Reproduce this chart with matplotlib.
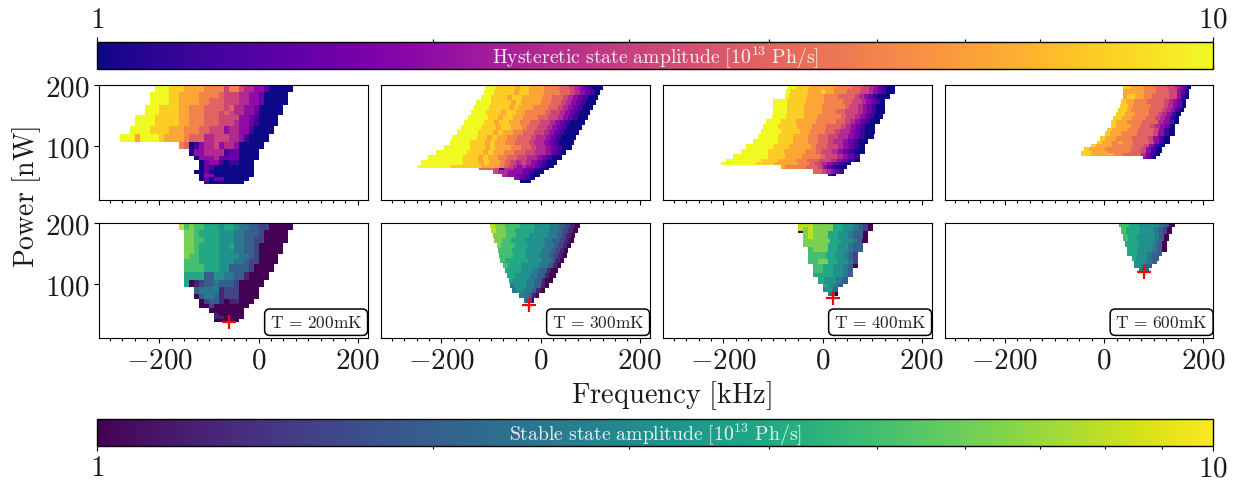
import numpy as np
import matplotlib
matplotlib.use('Agg')
import matplotlib.pyplot as plt
from matplotlib.colors import LogNorm
from matplotlib.cm import ScalarMappable

plt.rcParams['mathtext.fontset'] = 'cm'
plt.rcParams['font.family'] = ['cmr10', 'DejaVu Sans']
plt.rcParams['axes.unicode_minus'] = False
plt.rcParams['axes.formatter.use_mathtext'] = True
plt.rcParams['text.color'] = '#1a1a1a'
plt.rcParams['xtick.labelcolor'] = '#1a1a1a'
plt.rcParams['ytick.labelcolor'] = '#1a1a1a'

# Cell levels: character c means amplitude 10**(c/10), with 'a' = 10 [1e13 Ph/s]
TEMPS = ['200', '300', '400', '600']
X_TICKS = [-200, 0, 200]
X_TICK_LABELS = ['$-200$', '$0$', '$200$']
Y_TICKS = [100, 200]
Y_TICK_LABELS = ['$100$', '$200$']
THRESH_F = [-60, -23, 20, 80]
THRESH_P = [38, 66, 78, 120]

# ---- 200 mK
H200_P = [200,189,178,167,158,150,142,133,120,106,95,84,76,68,61,53,48,43,38]
H200_L = [-210,-220,-220,-230,-230,-250,-250,-260,-280,-160,-140,-130,-120,-120,-130,-120,-120,-110]
H200_R = [70,60,60,50,50,40,40,30,20,10,0,0,-10,-10,-10,-10,-20,-30]
H200_V = ["aaa9998888777757754433200000","aaaa998888777765554433200000","aaaa998888776665554433200000",
 "aaa9999887776666564433200000","aaa9999887776665654433200000","aaaa9999988777666555533210000",
 "aaaa9999988777666555433210000","aaaa9999888777665553443310000","aaa8aaaa9888876664455544310000",
 "76013445344300000","03344441220000","0333422220000","02331011000","02100000000","002000000000",
 "03300000000","0202200000","10000000"]
S200_P = H200_P
S200_L = [-160,-150,-150,-150,-150,-150,-150,-150,-150,-150,-130,-130,-120,-120,-100,-90,-90,-90]
S200_R = [70,60,60,50,50,40,40,30,20,10,0,0,-10,-20,-30,-30,-30,-40]
S200_V = ["97877666566544332200000","887666655544333200000","887766655544332200000",
 "88766665564433200000","88766665554433200000","8776666555544320000","7776666555443220000",
 "777766655333320000","66663355443310000","6012334333200000","3444412220000","0344312220000",
 "02331011000","0020000000","0000000","100000","110000","00000"]

# ---- 300 mK
H300_P = [200,191.8,183.6,175.4,167.2,159,150.8,142.6,134.4,126.2,118,109.8,101.6,93.4,85.2,77,68.9,63.9,59.6,54.1,48.6,43.2,39.3]
H300_L = [-112,-115,-120,-130,-135,-141,-147,-154,-161,-168,-178,-182,-194,-211,-227,-241,-247,-125,-97,-78,-54,-41]
H300_R = [126,120,116,112,106,100,95,89,84,78,71,67,63,52,43,34,26,17,7,-1,-11,-19]
H300_V = ["aa9999899888777665432100","aa999989988877766543210","aa999899888877665432100",
 "aaa999989888877665432100","aaa999989888777665432100","aaa999899887777655432100",
 "aaaa99899887776655432100","aaaa99899887766554321000","aaaa99989988766554321000",
 "aaaa99989887766554321000","aaaaa99898877666544321000","aaaa999898877666544321000",
 "aaaaa99989888776654432100","aaaaaa9998988776655443210","aaaaaaa99989887766554432100",
 "aaaaaaaa999898876545432100","aaaaaaa99999998888765434332100",
 "66651443322100","5443332100","43322100","3210","000"]
S300_P = [200,191.8,183.6,175.4,167.2,159,150.8,142.6,134.4,126.2,118,109.8,101.6,93.4,85.2,77,68.9]
S300_L = [-102,-100,-97,-95,-88,-85,-83,-81,-75,-71,-67,-63,-61,-58,-44,-34]
S300_R = [80,75,70,67,62,56,53,48,42,36,31,24,17,8,-3,-13]
S300_V = ["988777666555443210","988776666555443210","888776665555443210","887766655554433210",
 "87776665555443210","7776665555443210","777666555443210","76666655544310","7666555544310",
 "66665554433100","6655554433100","655554433100","4555443310","45544310","444310","4320"]

# ---- 400 mK
H400_P = [200,193.4,185.2,177,168.8,160.7,152.5,144.3,136.1,127.9,119.7,111.5,103.3,95.1,86.9,78.7,73.2,67.8,61.2,54.1,50.3]
H400_L = [-70,-74,-76,-100,-100,-100,-102,-114,-120,-125,-131,-141,-155,-165,-180,-195,-205,-84,-20,10]
H400_R = [146,146,136,126,126,126,122,116,106,106,103,92,85,85,75,75,57,50,44,27]
H400_V = ["aa99988888877776655432100","a999988898877766655432100","a99998888777666654321000",
 "aaa999988887777665543210","aaa9999888877777655432100","aaa9999888877766555432100",
 "aaa999988877777655432100","aaa99988887777665432100","aaa99998887776665432100","aaaa9999887776654432100",
 "aaaa9998887766554432100","aaaaa999888776654432100","aaaaa99988887665543210",
 "aaaaa999888877655432100","aaaaaa9998887776554321","aaaaaa99988877665543210","aaaaaa9998888776543210",
 "8777776665321000","6654321","10"]
S400_P = [200,193.4,188,184.2,174.3,167.8,160.7,152.5,141.5,133.3,126.2,118.6,111.5,100.5,95.1,86.9,80.3]
S400_L = [-50,-50,-50,-40,-40,-40,-30,-30,-30,-20,-20,-20,-9,1,1,11]
S400_R = [102,102,91,91,91,81,81,71,71,71,61,61,51,41,31,31]
S400_V = ["999888866554320","989888866554320","08988866554330","8988866554330",
 "888886655430","888886655433","78886655433","77776655432","7788665542",
 "776655430","77665543","66665543","65543","6543","553","430"]

# ---- 600 mK
H600_P = [200,193.4,185.2,177,168.8,161.7,155.2,148.6,142,136.1,129.5,125.1,116.9,108.7,103.3,97.8,92.3,88.5,83.6,78.7]
H600_L = [38,38,38,35,31,28,24,18,14,14,6,1,-9,-15,-26,-40,-46,-46,79]
H600_R = [176,172,172,165,165,161,155,151,151,142,142,142,132,132,122,116,116,112,105]
H600_V = ["99888777666554320","8888877766655320","8998877666655310","988777666654320",
 "998777766654320","998777766654310","99887776654310","99887776654310","9887776664320",
 "9888776654320","9888776665310","9887776665310","9887776665310",
 "98878776665310","98887777665310","988877777665310","998887777665310",
 "99888887766664210","3210"]
S600_P = [200,193.4,182.5,171.6,160.7,153.6,147,138.8,133.3,126.2,120.8]
S600_L = [30,35,38,43,46,46,56,60,60,70]
S600_R = [142,137,130,126,126,116,110,106,97,90]
S600_V = ["77665555430","76665554320","7665555430","666555430",
 "66555430","6655433","6555433","555443","55433","443"]

HYST = [(H200_P,H200_L,H200_R,H200_V),(H300_P,H300_L,H300_R,H300_V),(H400_P,H400_L,H400_R,H400_V),(H600_P,H600_L,H600_R,H600_V)]
STAB = [(S200_P,S200_L,S200_R,S200_V),(S300_P,S300_L,S300_R,S300_V),(S400_P,S400_L,S400_R,S400_V),(S600_P,S600_L,S600_R,S600_V)]

W, H = 1240, 481
fig = plt.figure(figsize=(W/100, H/100), dpi=100)
norm = LogNorm(1, 10)

def px_axes(x0, y0, x1, y1):
    return fig.add_axes([x0/W, 1-y1/H, (x1-x0)/W, (y1-y0)/H])

def level(ch):
    return 10**(1.0 if ch == 'a' else int(ch)/10)

def draw(ax, data, cmap):
    P, L, R, V = data
    for i, s in enumerate(V):
        xe = np.linspace(L[i], R[i], len(s)+1)
        c = np.array([[level(ch) for ch in s]])
        ax.pcolormesh(xe, [P[i+1], P[i]], c, cmap=cmap, norm=norm, antialiased=False, linewidth=0)

LEFTS = [99, 381, 663, 944.5]
WIDTH = 268.7
for j in range(4):
    a1 = px_axes(LEFTS[j], 86, LEFTS[j]+WIDTH, 201)
    a2 = px_axes(LEFTS[j], 224.3, LEFTS[j]+WIDTH, 339.3)
    draw(a1, HYST[j], 'plasma')
    draw(a2, STAB[j], 'viridis')
    a2.plot([THRESH_F[j]], [THRESH_P[j]], '+', color='red', ms=10, mew=1.6, zorder=5, clip_on=False)
    a2.text(0.808, 0.14, r'$\mathrm{T\/=\/%s mK}$' % TEMPS[j], transform=a2.transAxes, ha='center', va='center',
            fontsize=12.5, color='#222222', bbox=dict(boxstyle='round,pad=0.3', fc='white', ec='black', lw=1.1), zorder=6)
    for a, lab in ((a1, False), (a2, True)):
        a.set_xlim(-322, 220)
        a.set_ylim(11, 200)
        a.set_xticks(X_TICKS)
        a.set_xticks(np.arange(-300, 201, 25), minor=True)
        a.set_yticks(Y_TICKS)
        a.tick_params(axis='both', which='major', length=3.5, width=0.8, labelsize=21, pad=3)
        a.tick_params(axis='x', which='minor', length=2, width=0.8)
        a.set_xticklabels(X_TICK_LABELS if lab else [])
        if j == 0:
            a.set_yticklabels(Y_TICK_LABELS)
        else:
            a.set_yticklabels([])
            a.tick_params(axis='y', left=False)

CB_TICKS = [1, 10]
CB_LABELS = ['$1$', '$10$']
CB_MINOR = [2, 3, 4, 5, 6, 7, 8, 9]

c1 = px_axes(97, 43, 1213, 70)
c2 = px_axes(97, 420, 1213, 447)
for cax, cmap, loc, txt in (
    (c1, 'plasma', 'top', r'$\mathrm{Hysteretic\ state\ amplitude\ [10^{13}\ Ph/s]}$'),
    (c2, 'viridis', 'bottom', r'$\mathrm{Stable\ state\ amplitude\ [10^{13}\ Ph/s]}$')):
    cb = fig.colorbar(ScalarMappable(norm=norm, cmap=cmap), cax=cax, orientation='horizontal', ticklocation=loc)
    cb.set_ticks(CB_TICKS, labels=CB_LABELS)
    cb.ax.set_xticks(CB_MINOR, minor=True)
    cb.ax.set_xticklabels([], minor=True)
    cb.ax.tick_params(which='major', labelsize=21, length=3.5, width=0.8, pad=3)
    cb.ax.tick_params(which='minor', length=2, width=0.8)
    cb.outline.set_linewidth(1.0)
    cax.text(0.5, 0.47, txt, transform=cax.transAxes, ha='center', va='center', color='white', fontsize=14.2, alpha=0.9)

fig.text(671/W, 1-396/H, r'$\mathrm{Frequency\ [kHz]}$', ha='center', va='center', fontsize=20.5)
fig.text(27/W, 1-197/H, r'$\mathrm{Power\ [nW]}$', ha='center', va='center', rotation=90, fontsize=20)

fig.savefig('out.png', dpi=100)
